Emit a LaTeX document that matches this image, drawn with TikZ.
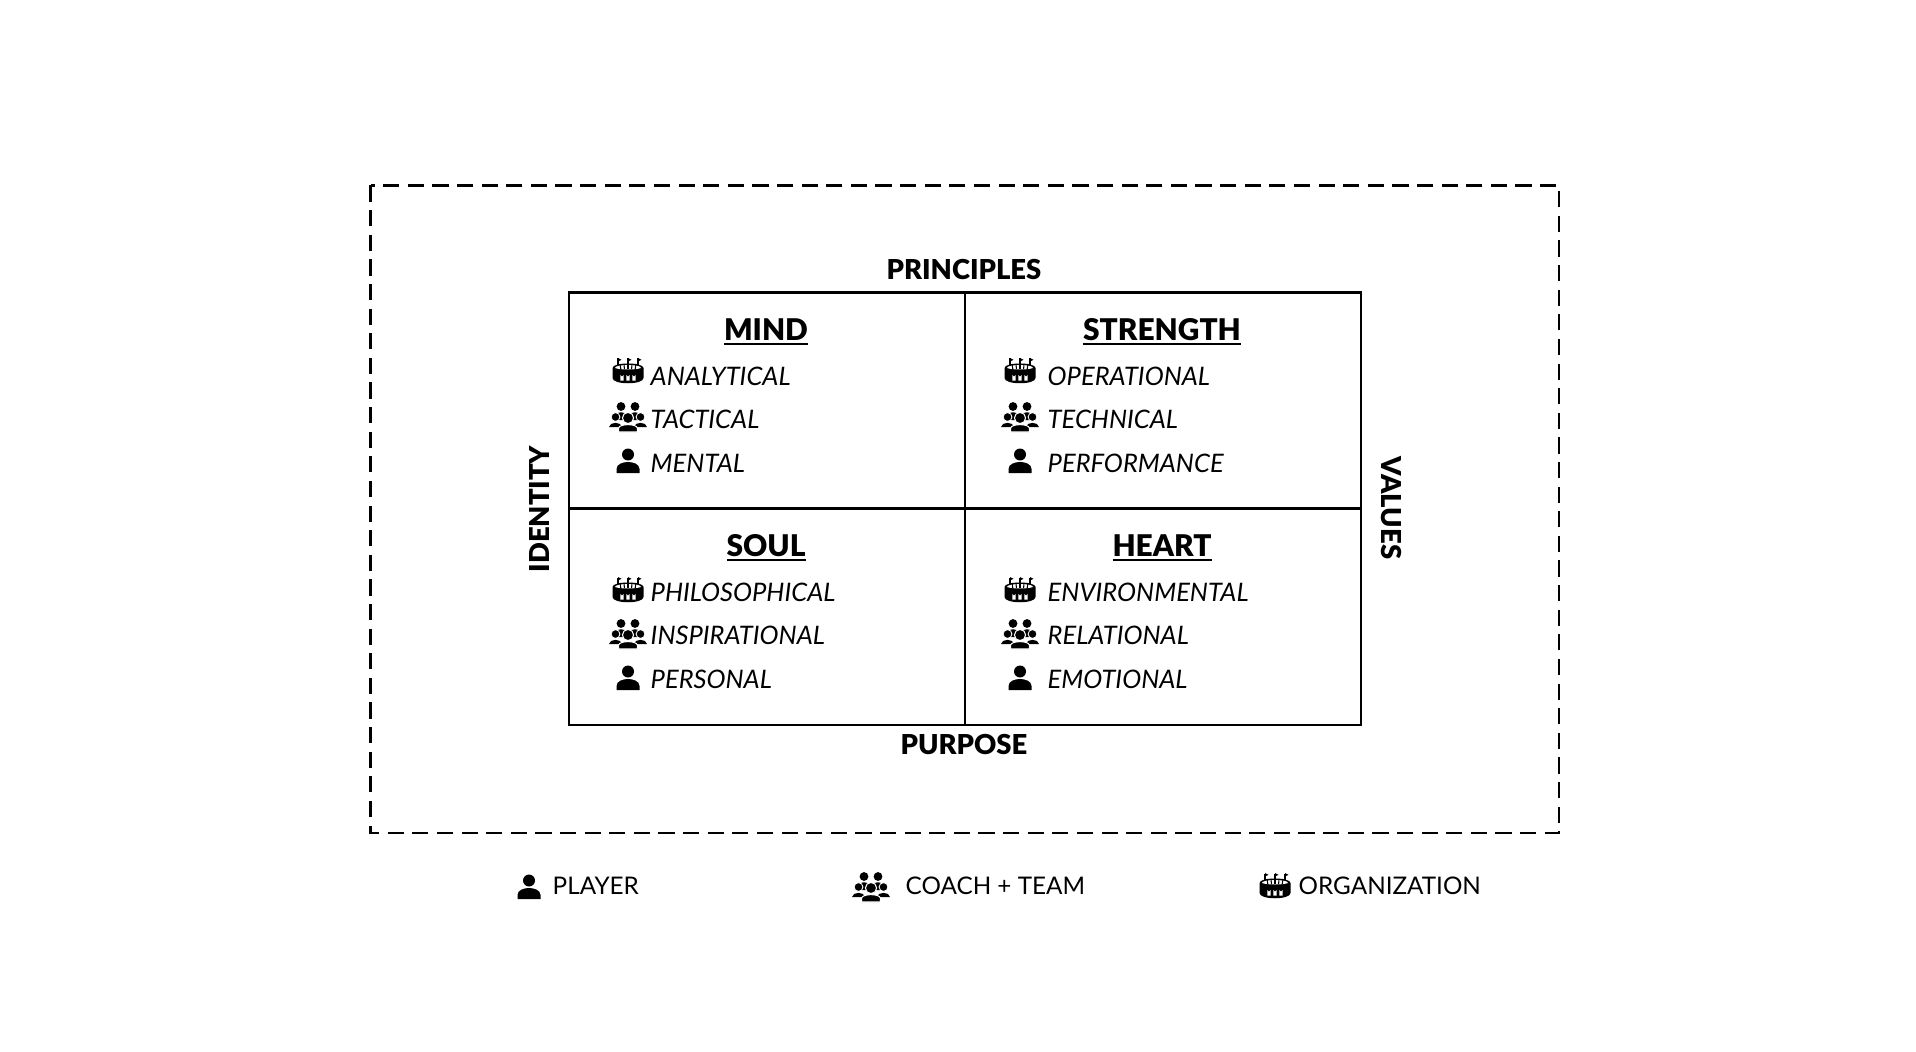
\documentclass[tikz,border=0pt]{standalone}
\usepackage{fontspec}
\setmainfont{Lato}
\newfontfamily\blackfont{Lato Black}
\usepackage{tikz}
\usetikzlibrary{calc}
\newcommand{\headrule}[1]{\setbox0\hbox{#1}\rlap{\rule[-1.25pt]{\wd0}{0.65pt}}\box0}
\tikzset{
	heading/.style={font=\fontsize{8.5}{11}\blackfont},
	sidelabel/.style={font=\fontsize{7.8}{10}\blackfont},
	item/.style={anchor=west,inner sep=0pt,font=\fontsize{7.25}{9}\selectfont\itshape},
	legend/.style={anchor=west,inner sep=0pt,font=\fontsize{6.9}{9}\selectfont},
	pics/player/.style={code={
		\fill (0,-6.5) circle[radius=6];
		\fill (-11.5,12) -- (-11.5,8) .. controls (-11.5,3) and (-5,1) .. (0,1) .. controls (5,1) and (11.5,3) .. (11.5,8) -- (11.5,12) -- cycle;
	}},
	pics/team/.style={code={
		\foreach \x in {-7,7}{
			\fill (\x,-10.5) circle[radius=4.4];
			\fill (\x-7,-1) .. controls (\x-5,-6) and (\x+5,-6) .. (\x+7,-1) -- (\x+2,3) -- (\x-2,3) -- cycle;
		}
		\foreach \x in {-12.5,12.5}{
			\fill[draw=white,line width=0.25pt] (\x,0) circle[radius=4.4];
			\fill (\x-6.5,10) .. controls (\x-6,4.5) and (\x+6,4.5) .. (\x+6.5,10) -- cycle;
		}
		\fill[draw=white,line width=0.3pt] (0,1) circle[radius=5.6];
		\fill[draw=white,line width=0.3pt] (-9.5,15) -- (-9.5,11) .. controls (-8,6.5) and (8,6.5) .. (9.5,11) -- (9.5,15) -- cycle;
	}},
	pics/stadium/.style={code={
		\foreach \x in {-10,0,10}{
			\draw[line width=0.3pt] (\x,-5) -- (\x,-12.5);
			\fill (\x,-13) -- (\x+3.5,-11.2) -- (\x,-9.5) -- cycle;
		}
		\fill (-15.5,-3) .. controls (-15.5,-9) and (15.5,-9) .. (15.5,-3) -- (15.5,7) .. controls (15.5,14) and (-15.5,14) .. (-15.5,7) -- cycle;
		\fill[white] (-13,-3) .. controls (-13,-7) and (13,-7) .. (13,-3) .. controls (8,-1) and (-8,-1) .. (-13,-3) -- cycle;
		\foreach \x in {-8,-4,0,4,8}{
			\draw[black,line width=0.3pt] (\x,-7) -- (\x*0.9,-2);
		}
		\foreach \x in {-6,0,6}{
			\fill[white] (\x-1.7,9.5) -- (\x-1.7,4) arc[start angle=180,end angle=0,radius=1.7,y=-1] -- (\x+1.7,9.5) -- cycle;
		}
	}},
}
\begin{document}
\begin{tikzpicture}[x=0.01cm,y=-0.01cm]
	\useasboundingbox (0,0) rectangle (1916,1052);
	\coordinate (TL) at (569,292.5);
	\coordinate (TM) at (965,292.5);
	\coordinate (TR) at (1361,292.5);
	\coordinate (ML) at (569,508.5);
	\coordinate (MR) at (1361,508.5);
	\coordinate (BL) at (569,725);
	\coordinate (BM) at (965,725);
	\coordinate (BR) at (1361,725);
	\draw[line width=0.7pt,dash pattern=on 4.6pt off 2.4pt] (370.5,185.5) rectangle (1559,833);
	\draw[line width=0.75pt] (TL)--(TR)--(BR)--(BL)--cycle;
	\draw[line width=0.7pt] (TM)--(BM);
	\draw[line width=0.7pt] (ML)--(MR);
	% side labels
	\node[sidelabel] (principles) at (964,270) {PRINCIPLES};
	\node[sidelabel] (purpose) at (964,745) {PURPOSE};
	\node[sidelabel,rotate=90] (identity) at (539,509) {IDENTITY};
	\node[sidelabel,rotate=-90] (values) at (1391,508) {VALUES};
	% mind
	\node[heading] (mind) at (766,332) {\headrule{MIND}};
	\pic at (628,371) {stadium};
	\pic at (628,417) {team};
	\pic at (628,461) {player};
	\node[item] (analytical) at (650,376) {ANALYTICAL};
	\node[item] (tactical) at (650,419) {TACTICAL};
	\node[item] (mental) at (650,463) {MENTAL};
	% strength
	\node[heading] (strength) at (1162,332) {\headrule{STRENGTH}};
	\pic at (1020,371) {stadium};
	\pic at (1020,417) {team};
	\pic at (1020,461) {player};
	\node[item] (operational) at (1047,376) {OPERATIONAL};
	\node[item] (technical) at (1047,419) {TECHNICAL};
	\node[item] (performance) at (1047,463) {PERFORMANCE};
	% soul
	\node[heading] (soul) at (766,548) {\headrule{SOUL}};
	\pic at (628,590) {stadium};
	\pic at (628,634) {team};
	\pic at (628,678) {player};
	\node[item] (philosophical) at (650,592) {PHILOSOPHICAL};
	\node[item] (inspirational) at (650,635) {INSPIRATIONAL};
	\node[item] (personal) at (650,679) {PERSONAL};
	% heart
	\node[heading] (heart) at (1162,548) {\headrule{HEART}};
	\pic at (1020,590) {stadium};
	\pic at (1020,634) {team};
	\pic at (1020,678) {player};
	\node[item] (environmental) at (1047,592) {ENVIRONMENTAL};
	\node[item] (relational) at (1047,635) {RELATIONAL};
	\node[item] (emotional) at (1047,679) {EMOTIONAL};
	% legend
	\pic at (529,887) {player};
	\pic at (871,887) {team};
	\pic at (1275,886) {stadium};
	\node[legend] (player) at (552,886) {PLAYER};
	\node[legend] (coach) at (905,886) {COACH + TEAM};
	\node[legend] (organization) at (1298,886) {ORGANIZATION};
\end{tikzpicture}
\end{document}
